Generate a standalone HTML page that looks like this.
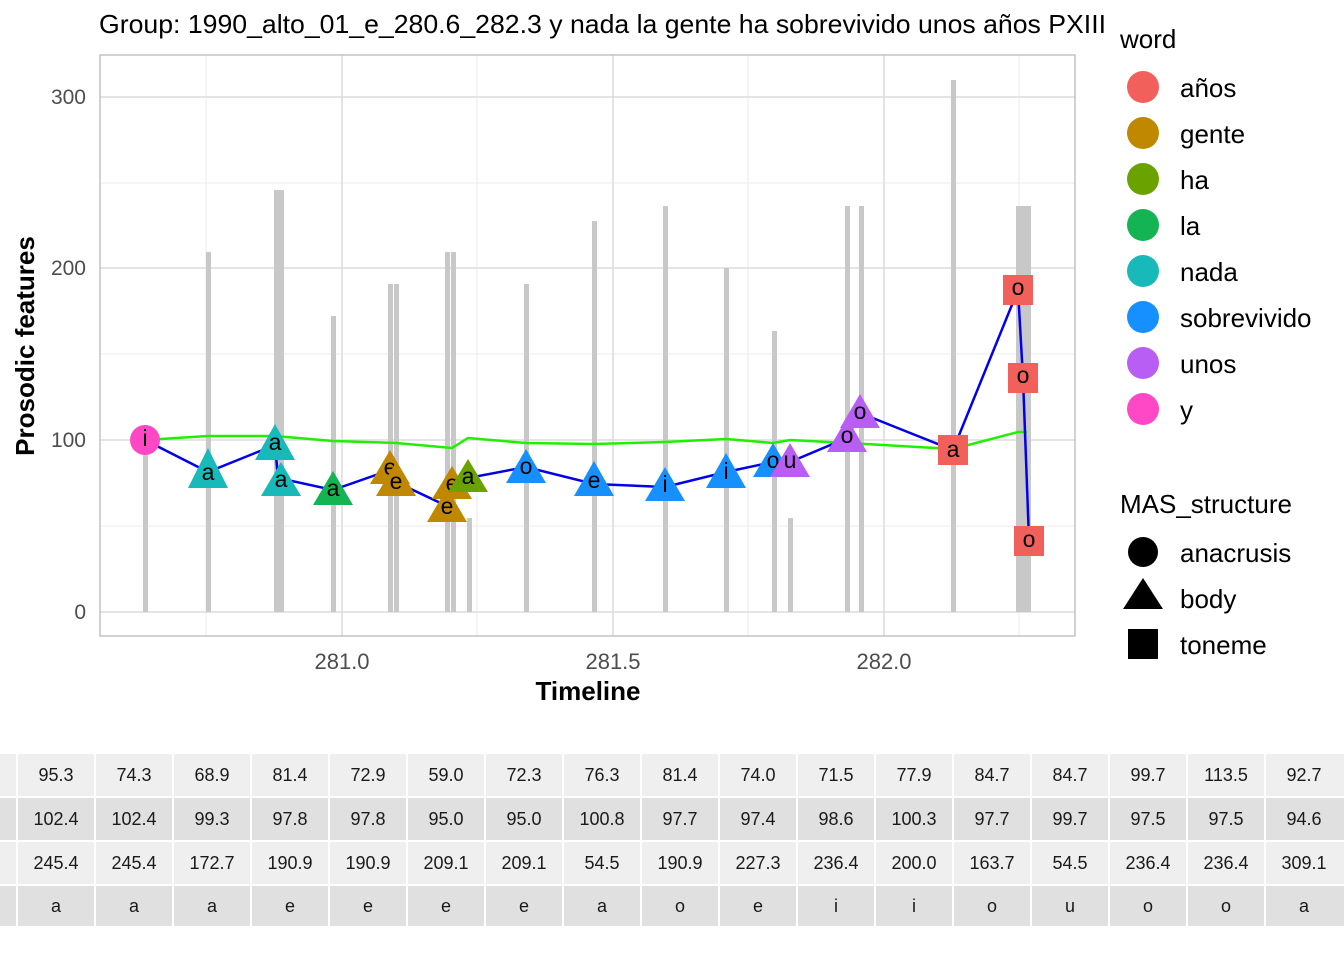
<!DOCTYPE html>
<html><head><meta charset="utf-8"><style>
body{margin:0;background:#fff;}
svg{display:block;font-family:"Liberation Sans",sans-serif;}
</style></head><body>
<svg width="1344" height="960" viewBox="0 0 1344 960" xmlns="http://www.w3.org/2000/svg">
<rect width="1344" height="960" fill="#fff"/>
<text x="99" y="33" font-size="26" fill="#000" textLength="1007" lengthAdjust="spacingAndGlyphs">Group: 1990_alto_01_e_280.6_282.3 y nada la gente ha sobrevivido unos años PXIII</text>
<g stroke="#ebebeb" stroke-width="1">
<line x1="100" x2="1075" y1="183" y2="183"/><line x1="100" x2="1075" y1="354" y2="354"/><line x1="100" x2="1075" y1="526" y2="526"/>
<line x1="206" x2="206" y1="55" y2="636"/><line x1="477" x2="477" y1="55" y2="636"/><line x1="748" x2="748" y1="55" y2="636"/><line x1="1019" x2="1019" y1="55" y2="636"/>
</g>
<g stroke="#dcdcdc" stroke-width="1.5">
<line x1="100" x2="1075" y1="97" y2="97"/><line x1="100" x2="1075" y1="268" y2="268"/><line x1="100" x2="1075" y1="440" y2="440"/><line x1="100" x2="1075" y1="612" y2="612"/>
<line x1="342" x2="342" y1="55" y2="636"/><line x1="613" x2="613" y1="55" y2="636"/><line x1="884" x2="884" y1="55" y2="636"/>
</g>
<g fill="#c8c8c8">
<rect x="143" y="440" width="5" height="172"/>
<rect x="206" y="252" width="5" height="360"/>
<rect x="274" y="190" width="5" height="422"/><rect x="279" y="190" width="5" height="422"/>
<rect x="331" y="316" width="5" height="296"/>
<rect x="388" y="284" width="5" height="328"/><rect x="394" y="284" width="5" height="328"/>
<rect x="445" y="252" width="5" height="360"/><rect x="451" y="252" width="5" height="360"/>
<rect x="467" y="518" width="5" height="94"/>
<rect x="524" y="284" width="5" height="328"/>
<rect x="592" y="221" width="5" height="391"/>
<rect x="663" y="206" width="5" height="406"/>
<rect x="724" y="268" width="5" height="344"/>
<rect x="772" y="331" width="5" height="281"/>
<rect x="788" y="518" width="5" height="94"/>
<rect x="845" y="206" width="5" height="406"/><rect x="859" y="206" width="5" height="406"/>
<rect x="951" y="80" width="5" height="532"/>
<rect x="1016" y="206" width="5" height="406"/><rect x="1021" y="206" width="5" height="406"/><rect x="1026" y="206" width="5" height="406"/>
</g>
<rect x="100" y="55" width="975" height="581" fill="none" stroke="#b3b3b3" stroke-width="1.2"/>
<polyline fill="none" stroke="#22ee00" stroke-width="2.5" points="145,440 208,436 275,436 333,441 396,443 452,448 468,438 526,443 594,444 665,442 726,439 773,443 790,440 847,443 953,449 1018,432 1027,432"/>
<polyline fill="none" stroke="#0000ee" stroke-width="2.5" points="145,440 208,472 275,445 278,478 333,490 390,470 396,482 447,506 468,478 526,467 594,484 665,487 726,472 773,462 790,462 847,438 860,413 953,450 1018,290 1023,378 1029,540"/>
<g font-size="23" text-anchor="middle" fill="#000">
<circle cx="145" cy="440" r="15" fill="#FF48C6"/><text x="145" y="446">i</text>
<polygon points="208,448 188,488 228,488" fill="#17B9B9"/><text x="208" y="480">a</text>
<polygon points="275,424 255,460 295,460" fill="#17B9B9"/><text x="275" y="450">a</text>
<polygon points="281,462 261,496 301,496" fill="#17B9B9"/><text x="281" y="487">a</text>
<polygon points="333,471 313,505 353,505" fill="#14B454"/><text x="333" y="496">a</text>
<polygon points="390,450 370,484 410,484" fill="#C08800"/><text x="390" y="475">e</text>
<polygon points="396,462 376,496 416,496" fill="#C08800"/><text x="396" y="489">e</text>
<polygon points="452,466 432,499 472,499" fill="#C08800"/><text x="452" y="491">e</text>
<polygon points="447,488 427,522 467,522" fill="#C08800"/><text x="447" y="514">e</text>
<polygon points="468,459 448,492 488,492" fill="#6AA200"/><text x="468" y="484">a</text>
<polygon points="526,449 506,483 546,483" fill="#1690FF"/><text x="526" y="474">o</text>
<polygon points="594,461 574,496 614,496" fill="#1690FF"/><text x="594" y="488">e</text>
<polygon points="665,467 645,501 685,501" fill="#1690FF"/><text x="665" y="492">i</text>
<polygon points="726,453 706,488 746,488" fill="#1690FF"/><text x="726" y="479">i</text>
<polygon points="773,443 753,477 793,477" fill="#1690FF"/><text x="773" y="468">o</text>
<polygon points="790,443 770,477 810,477" fill="#B95EF5"/><text x="790" y="468">u</text>
<polygon points="847,418 827,452 867,452" fill="#B95EF5"/><text x="847" y="443">o</text>
<polygon points="860,394 840,428 880,428" fill="#B95EF5"/><text x="860" y="419">o</text>
<rect x="938" y="435" width="30" height="30" fill="#F2605C"/><text x="953" y="457">a</text>
<rect x="1003" y="275" width="30" height="30" fill="#F2605C"/><text x="1018" y="295">o</text>
<rect x="1008" y="363" width="30" height="30" fill="#F2605C"/><text x="1023" y="383">o</text>
<rect x="1014" y="526" width="30" height="30" fill="#F2605C"/><text x="1029" y="547">o</text>
</g>
<g font-size="21" fill="#4d4d4d" text-anchor="end">
<text x="86" y="104">300</text><text x="86" y="275">200</text><text x="86" y="447">100</text><text x="86" y="619">0</text>
</g>
<g font-size="22" fill="#4d4d4d" text-anchor="middle">
<text x="342" y="669">281.0</text><text x="613" y="669">281.5</text><text x="884" y="669">282.0</text>
</g>
<text x="588" y="700" font-size="26" font-weight="bold" text-anchor="middle">Timeline</text>
<text transform="translate(34,346) rotate(-90)" font-size="26" font-weight="bold" text-anchor="middle">Prosodic features</text>
<g font-size="26" fill="#000">
<text x="1120" y="48">word</text>
<circle cx="1143" cy="87" r="16" fill="#F2605C"/><text x="1180" y="97">años</text>
<circle cx="1143" cy="133" r="16" fill="#C08800"/><text x="1180" y="143">gente</text>
<circle cx="1143" cy="179" r="16" fill="#6AA200"/><text x="1180" y="189">ha</text>
<circle cx="1143" cy="225" r="16" fill="#14B454"/><text x="1180" y="235">la</text>
<circle cx="1143" cy="271" r="16" fill="#17B9B9"/><text x="1180" y="281">nada</text>
<circle cx="1143" cy="317" r="16" fill="#1690FF"/><text x="1180" y="327">sobrevivido</text>
<circle cx="1143" cy="363" r="16" fill="#B95EF5"/><text x="1180" y="373">unos</text>
<circle cx="1143" cy="409" r="16" fill="#FF48C6"/><text x="1180" y="419">y</text>
<text x="1120" y="513">MAS_structure</text>
<circle cx="1143" cy="552" r="15"/><text x="1180" y="562">anacrusis</text>
<polygon points="1143,578 1123,609 1163,609"/><text x="1180" y="608">body</text>
<rect x="1128" y="629" width="30" height="30"/><text x="1180" y="654">toneme</text>
</g>
<g>
<rect x="0" y="754" width="16" height="42" fill="#efefef"/>
<rect x="0" y="798" width="16" height="42" fill="#e0e0e0"/>
<rect x="0" y="842" width="16" height="42" fill="#efefef"/>
<rect x="0" y="886" width="16" height="40" fill="#e0e0e0"/>
</g>
<g fill="#efefef">
<rect x="18" y="754" width="76" height="42"/><rect x="96" y="754" width="76" height="42"/><rect x="174" y="754" width="76" height="42"/><rect x="252" y="754" width="76" height="42"/><rect x="330" y="754" width="76" height="42"/><rect x="408" y="754" width="76" height="42"/><rect x="486" y="754" width="76" height="42"/><rect x="564" y="754" width="76" height="42"/><rect x="642" y="754" width="76" height="42"/><rect x="720" y="754" width="76" height="42"/><rect x="798" y="754" width="76" height="42"/><rect x="876" y="754" width="76" height="42"/><rect x="954" y="754" width="76" height="42"/><rect x="1032" y="754" width="76" height="42"/><rect x="1110" y="754" width="76" height="42"/><rect x="1188" y="754" width="76" height="42"/><rect x="1266" y="754" width="78" height="42"/>
<rect x="18" y="842" width="76" height="42"/><rect x="96" y="842" width="76" height="42"/><rect x="174" y="842" width="76" height="42"/><rect x="252" y="842" width="76" height="42"/><rect x="330" y="842" width="76" height="42"/><rect x="408" y="842" width="76" height="42"/><rect x="486" y="842" width="76" height="42"/><rect x="564" y="842" width="76" height="42"/><rect x="642" y="842" width="76" height="42"/><rect x="720" y="842" width="76" height="42"/><rect x="798" y="842" width="76" height="42"/><rect x="876" y="842" width="76" height="42"/><rect x="954" y="842" width="76" height="42"/><rect x="1032" y="842" width="76" height="42"/><rect x="1110" y="842" width="76" height="42"/><rect x="1188" y="842" width="76" height="42"/><rect x="1266" y="842" width="78" height="42"/>
</g>
<g fill="#e0e0e0">
<rect x="18" y="798" width="76" height="42"/><rect x="96" y="798" width="76" height="42"/><rect x="174" y="798" width="76" height="42"/><rect x="252" y="798" width="76" height="42"/><rect x="330" y="798" width="76" height="42"/><rect x="408" y="798" width="76" height="42"/><rect x="486" y="798" width="76" height="42"/><rect x="564" y="798" width="76" height="42"/><rect x="642" y="798" width="76" height="42"/><rect x="720" y="798" width="76" height="42"/><rect x="798" y="798" width="76" height="42"/><rect x="876" y="798" width="76" height="42"/><rect x="954" y="798" width="76" height="42"/><rect x="1032" y="798" width="76" height="42"/><rect x="1110" y="798" width="76" height="42"/><rect x="1188" y="798" width="76" height="42"/><rect x="1266" y="798" width="78" height="42"/>
<rect x="18" y="886" width="76" height="40"/><rect x="96" y="886" width="76" height="40"/><rect x="174" y="886" width="76" height="40"/><rect x="252" y="886" width="76" height="40"/><rect x="330" y="886" width="76" height="40"/><rect x="408" y="886" width="76" height="40"/><rect x="486" y="886" width="76" height="40"/><rect x="564" y="886" width="76" height="40"/><rect x="642" y="886" width="76" height="40"/><rect x="720" y="886" width="76" height="40"/><rect x="798" y="886" width="76" height="40"/><rect x="876" y="886" width="76" height="40"/><rect x="954" y="886" width="76" height="40"/><rect x="1032" y="886" width="76" height="40"/><rect x="1110" y="886" width="76" height="40"/><rect x="1188" y="886" width="76" height="40"/><rect x="1266" y="886" width="78" height="40"/>
</g>
<g font-size="18" text-anchor="middle" fill="#1a1a1a">
<text x="56" y="781">95.3</text><text x="134" y="781">74.3</text><text x="212" y="781">68.9</text><text x="290" y="781">81.4</text><text x="368" y="781">72.9</text><text x="446" y="781">59.0</text><text x="524" y="781">72.3</text><text x="602" y="781">76.3</text><text x="680" y="781">81.4</text><text x="758" y="781">74.0</text><text x="836" y="781">71.5</text><text x="914" y="781">77.9</text><text x="992" y="781">84.7</text><text x="1070" y="781">84.7</text><text x="1148" y="781">99.7</text><text x="1226" y="781">113.5</text><text x="1304" y="781">92.7</text>
<text x="56" y="825">102.4</text><text x="134" y="825">102.4</text><text x="212" y="825">99.3</text><text x="290" y="825">97.8</text><text x="368" y="825">97.8</text><text x="446" y="825">95.0</text><text x="524" y="825">95.0</text><text x="602" y="825">100.8</text><text x="680" y="825">97.7</text><text x="758" y="825">97.4</text><text x="836" y="825">98.6</text><text x="914" y="825">100.3</text><text x="992" y="825">97.7</text><text x="1070" y="825">99.7</text><text x="1148" y="825">97.5</text><text x="1226" y="825">97.5</text><text x="1304" y="825">94.6</text>
<text x="56" y="869">245.4</text><text x="134" y="869">245.4</text><text x="212" y="869">172.7</text><text x="290" y="869">190.9</text><text x="368" y="869">190.9</text><text x="446" y="869">209.1</text><text x="524" y="869">209.1</text><text x="602" y="869">54.5</text><text x="680" y="869">190.9</text><text x="758" y="869">227.3</text><text x="836" y="869">236.4</text><text x="914" y="869">200.0</text><text x="992" y="869">163.7</text><text x="1070" y="869">54.5</text><text x="1148" y="869">236.4</text><text x="1226" y="869">236.4</text><text x="1304" y="869">309.1</text>
<text x="56" y="912">a</text><text x="134" y="912">a</text><text x="212" y="912">a</text><text x="290" y="912">e</text><text x="368" y="912">e</text><text x="446" y="912">e</text><text x="524" y="912">e</text><text x="602" y="912">a</text><text x="680" y="912">o</text><text x="758" y="912">e</text><text x="836" y="912">i</text><text x="914" y="912">i</text><text x="992" y="912">o</text><text x="1070" y="912">u</text><text x="1148" y="912">o</text><text x="1226" y="912">o</text><text x="1304" y="912">a</text>
</g>
</svg>
</body></html>
